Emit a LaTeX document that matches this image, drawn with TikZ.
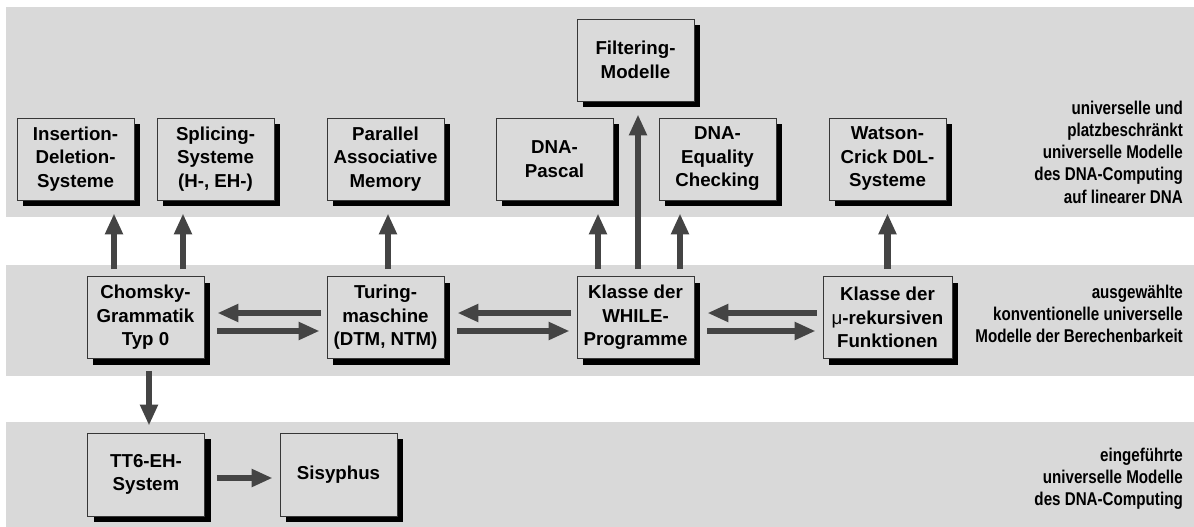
\documentclass[tikz,border=0pt]{standalone}
\usepackage{fontspec}
\setmainfont{Liberation Sans}
\newfontfamily\narrowfont[FakeStretch=0.82]{Liberation Sans}
\usetikzlibrary{arrows.meta,shadows,calc}
\definecolor{bandgray}{RGB}{217,217,217}
\definecolor{boxgray}{RGB}{218,218,218}
\definecolor{arrgray}{RGB}{68,68,68}
\definecolor{edgegray}{RGB}{55,55,55}
\begin{document}
\begin{tikzpicture}[x=1pt,y=-1pt,
 model/.style={draw=edgegray,line width=0.9pt,fill=boxgray,minimum width=117pt,minimum height=82pt,inner sep=0pt,align=center,
   font=\fontsize{18.7}{23.5}\selectfont\bfseries,
   drop shadow={shadow xshift=6pt,shadow yshift=-6pt,fill=black,opacity=1}},
 lab/.style={anchor=east,align=right,inner sep=0pt,font=\narrowfont\bfseries\fontsize{18.5}{22.2}\selectfont},
 arr/.style={draw=arrgray,line width=6.5pt,-{Triangle[length=21pt,width=17pt]}},
 uparr/.style={arr,shorten <=7pt,shorten >=13pt},
 rarr/.style={arr,shorten <=13pt,shorten >=7pt},
 larr/.style={arr,shorten <=6pt,shorten >=13pt},
 dnarr/.style={arr,shorten <=12pt,shorten >=7pt}]
\useasboundingbox (0,0) rectangle (1194,527);
\fill[bandgray] (6,7) rectangle (1194,217);
\fill[bandgray] (6,265) rectangle (1194,376);
\fill[bandgray] (6,422) rectangle (1194,527);

\node[model] (ins) at (75.5,159) {Insertion-\\Deletion-\\Systeme};
\node[model] (spl) at (215.5,159) {Splicing-\\Systeme\\(H-, EH-)};
\node[model] (par) at (385.5,159) {Parallel\\Associative\\Memory};
\node[model] (pas) at (554.5,159) {DNA-\\Pascal};
\node[model] (fil) at (635.5,60) {Filtering-\\Modelle};
\node[model] (equ) at (717.5,159) {DNA-\\Equality\\Checking};
\node[model] (wat) at (887.5,159) {Watson-\\Crick D0L-\\Systeme};
\node[model] (cho) at (145.5,317.5) {Chomsky-\\Grammatik\\Typ 0};
\node[model] (tur) at (385.5,317.5) {Turing-\\maschine\\(DTM, NTM)};
\node[model] (whi) at (635.5,317.5) {Klasse der\\WHILE-\\Programme};
\node[model,minimum width=129pt] (mu) at (887.5,317.5) {Klasse der\\{\mdseries μ}-rekursiven\\Funktionen};
\node[model,minimum height=83pt] (tt6) at (146,474.5) {TT6-EH-\\System};
\node[model,minimum height=83pt] (sis) at (338.5,474.5) {Sisyphus};

\node[lab] (l1) at (1183,152) {universelle und\\platzbeschränkt\\universelle Modelle\\des DNA-Computing\\auf linearer DNA};
\node[lab] (l2) at (1183,314) {ausgewählte\\konventionelle universelle\\Modelle der Berechenbarkeit};
\node[lab] (l3) at (1183,479) {eingeführte\\universelle Modelle\\des DNA-Computing};

% vertical arrows
\coordinate (a1) at ($(cho.north)+(-31.5,0)$);
\draw[uparr] (a1) -- (a1 |- ins.south);
\coordinate (a2) at ($(cho.north)+(37.5,0)$);
\draw[uparr] (a2) -- (a2 |- spl.south);
\coordinate (a3) at ($(tur.north)+(2.5,0)$);
\draw[uparr] (a3) -- (a3 |- par.south);
\coordinate (a4) at ($(whi.north)+(-37.5,0)$);
\draw[uparr] (a4) -- (a4 |- pas.south);
\coordinate (a5) at ($(whi.north)+(2.5,0)$);
\draw[uparr] (a5) -- (a5 |- fil.south);
\coordinate (a6) at ($(whi.north)+(44.5,0)$);
\draw[uparr] (a6) -- (a6 |- equ.south);
\coordinate (a7) at (mu.north);
\draw[uparr] (a7) -- (a7 |- wat.south);
\coordinate (d1) at ($(cho.south)+(3.5,0)$);
\draw[dnarr] (d1) -- (d1 |- tt6.north);

% horizontal arrows
\coordinate (r1) at ($(cho.east)+(0,13.5)$);
\draw[rarr] (r1) -- (r1 -| tur.west);
\coordinate (l1c) at ($(tur.west)+(0,-4.5)$);
\draw[larr] (l1c) -- (l1c -| cho.east);
\coordinate (r2) at ($(tur.east)+(0,13.5)$);
\draw[rarr] (r2) -- (r2 -| whi.west);
\coordinate (l2c) at ($(whi.west)+(0,-4.5)$);
\draw[larr] (l2c) -- (l2c -| tur.east);
\coordinate (r3) at ($(whi.east)+(0,13.5)$);
\draw[rarr] (r3) -- (r3 -| mu.west);
\coordinate (l3c) at ($(mu.west)+(0,-4.5)$);
\draw[larr] (l3c) -- (l3c -| whi.east);
\coordinate (r4) at ($(tt6.east)+(0,3.5)$);
\draw[dnarr] (r4) -- (r4 -| sis.west);
\end{tikzpicture}
\end{document}
